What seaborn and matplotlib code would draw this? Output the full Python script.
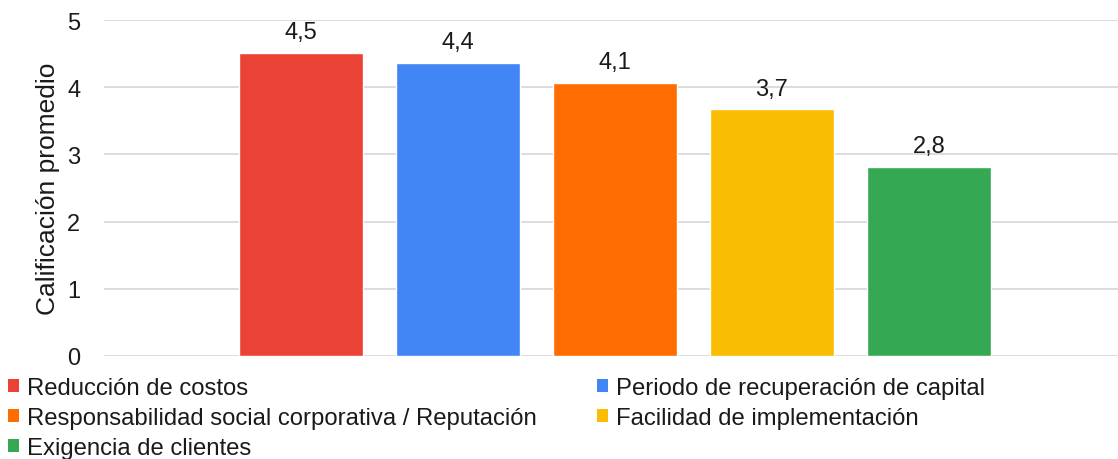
import matplotlib
matplotlib.use("Agg")
import matplotlib.pyplot as plt
from matplotlib.patches import Patch
import seaborn as sns
import pandas as pd

categories = [
    "Reducción de costos",
    "Periodo de recuperación de capital",
    "Responsabilidad social corporativa / Reputación",
    "Facilidad de implementación",
    "Exigencia de clientes",
]
values = [4.51, 4.36, 4.06, 3.67, 2.81]
colors = ["#EA4335", "#4285F4", "#FF6D01", "#FBBC04", "#34A853"]
y_ticks = [0, 1, 2, 3, 4, 5]
y_label = "Calificación promedio"

sns.set_theme(style="white")
plt.rcParams["font.family"] = ["Liberation Sans", "DejaVu Sans"]

df = pd.DataFrame({"cat": categories, "val": values})

fig = plt.figure(figsize=(11.18, 4.6), dpi=100)
ax = fig.add_axes([104 / 1118, 103 / 460, 1014 / 1118, 336 / 460])

sns.barplot(data=df, x="cat", y="val", hue="cat", palette=colors,
            order=categories, hue_order=categories, width=0.785,
            legend=False, ax=ax, saturation=1)

for c in ax.containers:
    ax.bar_label(c, labels=[f"{v:.1f}".replace(".", ",") for v in c.datavalues],
                 padding=7, fontsize=17, color="#1a1a1a")

ax.set_xlim(-1.255, 5.204)
ax.set_ylim(0, 5)
ax.set_yticks(y_ticks)
ax.set_xticks([])
ax.set_xlabel("")
ax.set_ylabel(y_label, fontsize=19, color="#1a1a1a")
ax.yaxis.set_label_coords(-0.043, 0.5)
ax.tick_params(axis="y", length=0, pad=17, labelsize=17, labelcolor="#1a1a1a")
ax.grid(axis="y", color="#d9d9d9", linewidth=1.3)
ax.set_axisbelow(True)
for s in ax.spines.values():
    s.set_visible(False)

order = [0, 2, 4, 1, 3]
handles = [Patch(facecolor=colors[i], edgecolor="none") for i in order]
labels = [categories[i] for i in order]
fig.legend(handles, labels, ncol=2, loc="upper left",
           bbox_to_anchor=(8 / 1118, 1 - 378 / 460), frameon=False,
           fontsize=17.2, handlelength=0.47, handleheight=0.47,
           handletextpad=0.34, columnspacing=2.5, labelspacing=0.33,
           borderaxespad=0, borderpad=0, labelcolor="#1a1a1a")

fig.savefig("out.png", dpi=100)
